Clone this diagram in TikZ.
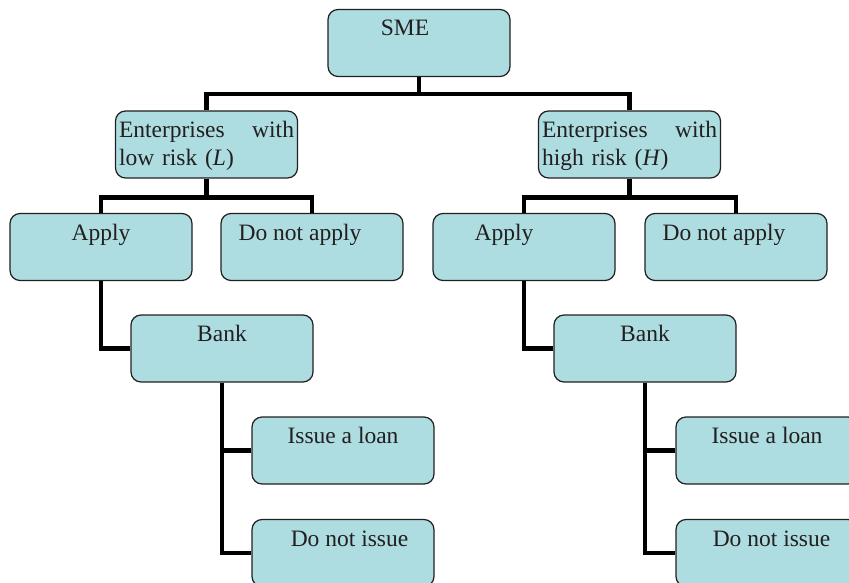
\documentclass[tikz,border=0pt]{standalone}
\usepackage{fontspec}
\setmainfont{Liberation Serif}
\usepackage{tikz}
\usetikzlibrary{positioning,calc}
\definecolor{boxfill}{RGB}{173,221,224}
\definecolor{boxline}{RGB}{35,31,32}

\begin{document}
\begin{tikzpicture}[x=1pt,y=-1pt]
\tikzstyle{box}=[draw=boxline,fill=boxfill,line width=1.2pt,rounded corners=10pt,
  minimum width=182pt,minimum height=67pt,inner sep=0pt,
  text height=16pt,text depth=30pt,text=boxline,
  font=\fontsize{23.5}{28}\selectfont]
\tikzstyle{riskbox}=[box,text width=175pt,align=left]
\tikzstyle{conn}=[line width=4.5pt]
\useasboundingbox (0,0) rectangle (849,583);
% top level
\node [box] (sme) at (419,43) {\hspace*{-28pt}SME};
\node [riskbox] (lowrisk) at (206.5,144.5) {Enterprises\hfill with\\low risk (\textit{L})};
\node [riskbox] (highrisk) at (629.5,144.5) {Enterprises\hfill with\\high risk (\textit{H})};
% low risk branch
\node [box] (applyL) at (101,247) {Apply};
\node [box] (noapplyL) at (312,247) {\hspace*{-24pt}Do not apply};
\node [box] (bankL) at (222,348.5) {Bank};
\node [box] (loanL) at (343,450.5) {Issue a loan};
\node [box] (noloanL) at (343,553) {\hspace*{13pt}Do not issue};
% high risk branch
\node [box] (applyH) at (524,247) {\hspace*{-40pt}Apply};
\node [box] (noapplyH) at (736,247) {\hspace*{-24pt}Do not apply};
\node [box] (bankH) at (645,348.5) {Bank};
\node [box] (loanH) at (767,450.5) {Issue a loan};
\node [box] (noloanH) at (767,553) {\hspace*{9pt}Do not issue};
% connectors
\draw [conn] (sme.south) -- ++(0,17);
\draw [conn] (lowrisk.north) |- ($(sme.south)+(0,17)$) -| (highrisk.north);
\draw [conn] (lowrisk.south) -- ++(0,19);
\draw [conn] (applyL.north) |- ($(lowrisk.south)+(0,19)$) -| (noapplyL.north);
\draw [conn] (highrisk.south) -- ++(0,19);
\draw [conn] (applyH.north) |- ($(highrisk.south)+(0,19)$) -| (noapplyH.north);
\draw [conn] (applyL.south) |- (bankL.west);
\draw [conn] (applyH.south) |- (bankH.west);
\draw [conn] (bankL.south) |- (loanL.west);
\draw [conn] (bankL.south) |- (noloanL.west);
\draw [conn] (bankH.south) |- (loanH.west);
\draw [conn] (bankH.south) |- (noloanH.west);
\end{tikzpicture}
\end{document}
